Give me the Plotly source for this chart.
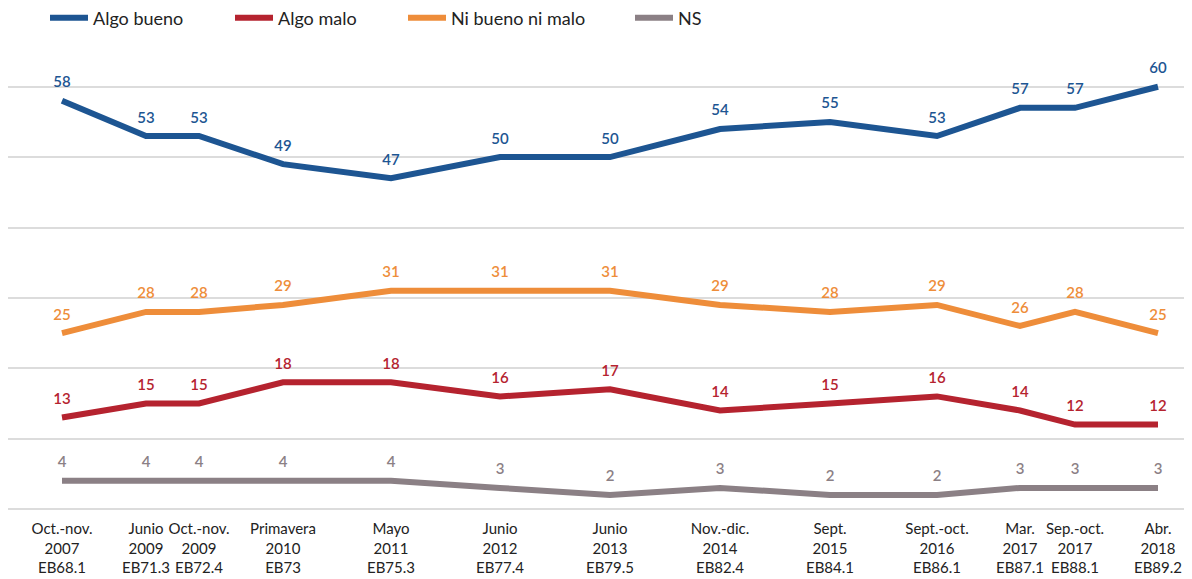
import plotly.graph_objects as go

periods = ["Oct.-nov.<br>2007<br>EB68.1", "Junio<br>2009<br>EB71.3", "Oct.-nov.<br>2009<br>EB72.4",
           "Primavera<br>2010<br>EB73", "Mayo<br>2011<br>EB75.3", "Junio<br>2012<br>EB77.4",
           "Junio<br>2013<br>EB79.5", "Nov.-dic.<br>2014<br>EB82.4", "Sept.<br>2015<br>EB84.1",
           "Sept.-oct.<br>2016<br>EB86.1", "Mar.<br>2017<br>EB87.1", "Sep.-oct.<br>2017<br>EB88.1",
           "Abr.<br>2018<br>EB89.2"]
x_positions = [62, 146, 199, 283, 391, 500, 610, 720, 830, 937, 1020, 1075, 1158]

algo_bueno = [58, 53, 53, 49, 47, 50, 50, 54, 55, 53, 57, 57, 60]
algo_malo = [13, 15, 15, 18, 18, 16, 17, 14, 15, 16, 14, 12, 12]
ni_bueno_ni_malo = [25, 28, 28, 29, 31, 31, 31, 29, 28, 29, 26, 28, 25]
ns = [4, 4, 4, 4, 4, 3, 2, 3, 2, 2, 3, 3, 3]

series = [
    ("Algo bueno", algo_bueno, "#1d5592"),
    ("Algo malo", algo_malo, "#b5232f"),
    ("Ni bueno ni malo", ni_bueno_ni_malo, "#ee8d3a"),
    ("NS", ns, "#8b8085"),
]
legend_left = [45, 230, 403, 630]

FONT = "Lato"
fig = go.Figure()
legends = {}
for i, (name, vals, color) in enumerate(series):
    lg = "legend" if i == 0 else f"legend{i + 1}"
    fig.add_trace(go.Scatter(
        x=x_positions, y=vals, name=name, mode="lines+markers+text",
        text=[str(v) for v in vals], textposition="top center",
        textfont=dict(family=FONT, size=15, color=color, weight=600),
        marker=dict(size=14, color="rgba(0,0,0,0)"),
        line=dict(color=color, width=6),
        cliponaxis=False, legend=lg,
    ))
    legends[lg] = dict(orientation="h", xref="container", x=(legend_left[i] - 8) / 1192,
                       xanchor="left", yref="container", y=1 - 10 / 579, yanchor="middle",
                       font=dict(family=FONT, size=18, color="#222222"),
                       itemwidth=38, bgcolor="rgba(0,0,0,0)")

fig.update_layout(
    width=1192, height=579,
    margin=dict(l=0, r=15, t=52, b=78),
    plot_bgcolor="white", paper_bgcolor="white",
    font=dict(family=FONT, size=15, color="#222222"),
    showlegend=True,
    xaxis=dict(range=[8, 1185], tickmode="array", tickvals=x_positions, ticktext=periods,
               showgrid=False, zeroline=False, showline=False, ticks="", ticklabelstandoff=9,
               tickangle=0,
               tickfont=dict(family=FONT, size=15, color="#222222")),
    yaxis=dict(range=[0, 63.8], tickvals=[0, 10, 20, 30, 40, 50, 60], showticklabels=False,
               showgrid=True, gridcolor="#dcdcdc", gridwidth=2, zeroline=True,
               zerolinecolor="#dcdcdc", zerolinewidth=2),
    **legends,
)

fig.write_html("out.html")
